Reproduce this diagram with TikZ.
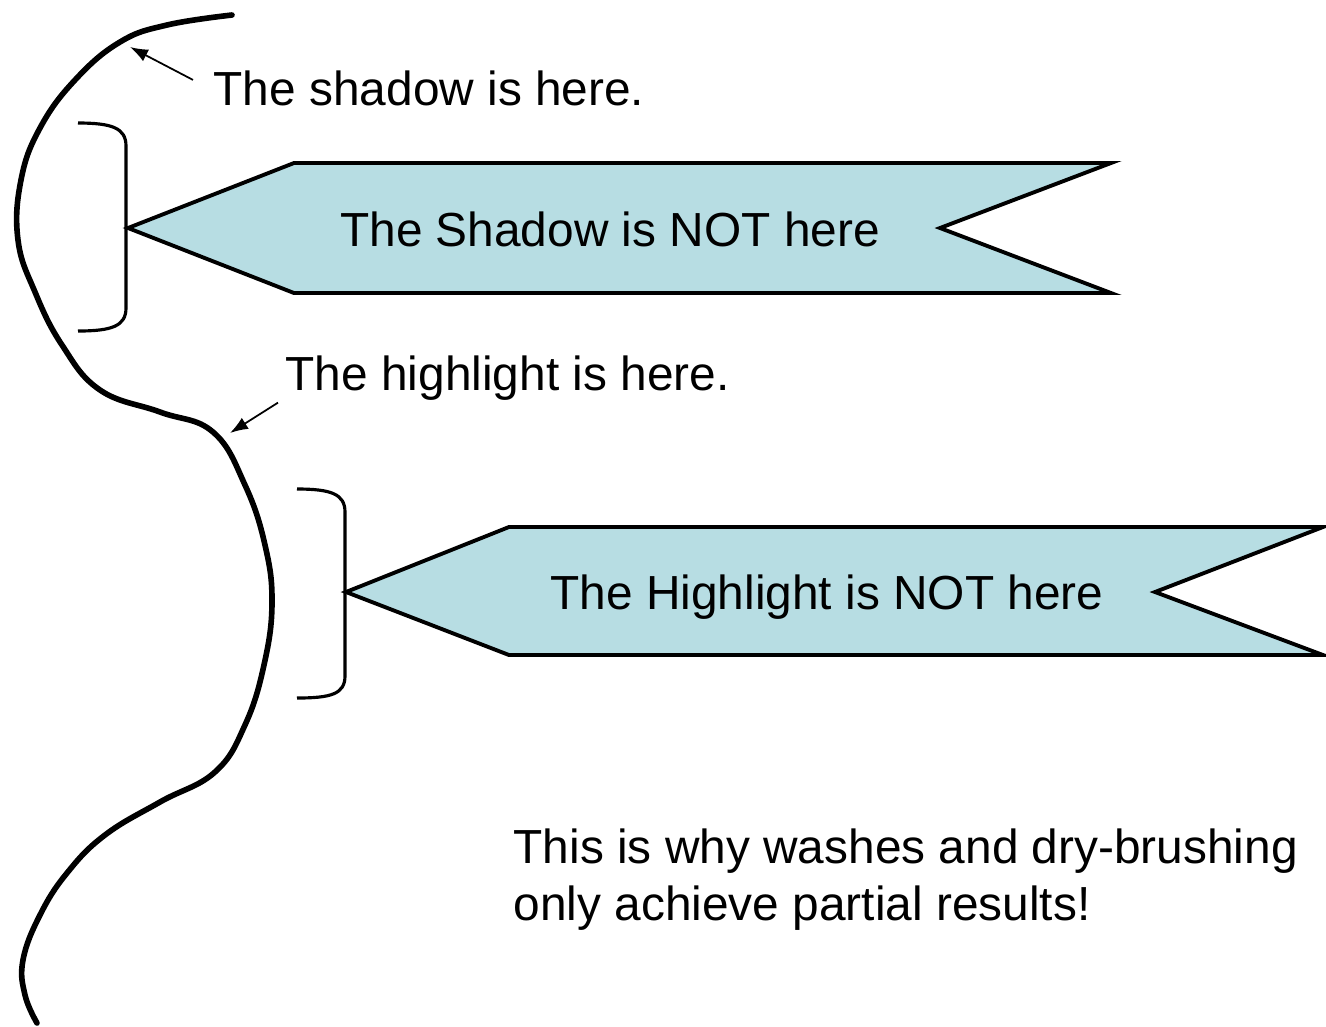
\documentclass[tikz,border=0pt]{standalone}
\usepackage{fontspec}
\setmainfont{Liberation Sans}
\usetikzlibrary{positioning, arrows.meta}
\definecolor{bannerblue}{RGB}{183,221,227}

\begin{document}
\begin{tikzpicture}[x=0.01cm, y=-0.01cm, >={Latex[length=1.8mm,width=1.3mm]},
    lbl/.style={inner sep=0pt, font=\fontsize{13.6}{16.2}\selectfont},
    banner/.style={draw, fill=bannerblue, line width=1.1pt, line join=miter},
    bracket/.style={draw, line width=0.9pt},
    outline/.style={draw, line width=1.6pt, line cap=round},
    pointer/.style={->, line width=0.5pt}]
    \useasboundingbox (0,0) rectangle (1326,1026);

    % Outline of the figure
    \path[outline] plot[smooth, tension=0.7] coordinates {(232,15) (167,25) (120,42) (75,80) (40,128) (21,180) (18,240) (35,292) (62,345) (100,390) (160,412) (213,432) (245,485) (265,545) (272,603) (264,665) (245,725) (215,772) (160,802) (105,835) (67,873) (40,915) (23,960) (25,995) (37,1023)};
    \coordinate (shadowpt) at (130,47);
    \coordinate (highpt) at (230,433);

    % Brackets
    \path[bracket] (78,123) .. controls (112,123) and (126,128) .. (126,146) -- (126,308) .. controls (126,326) and (112,331) .. (78,331);
    \path[bracket] (297,489) .. controls (331,489) and (345,494) .. (345,512) -- (345,676) .. controls (345,694) and (331,698) .. (297,698);

    % Banners
    \path[banner] (128,228) -- (294,163) -- (1111,163) -- (940,228) -- (1111,293) -- (294,293) -- cycle;
    \path[banner] (346,592) -- (509,527) -- (1323,527) -- (1155,592) -- (1323,655) -- (509,655) -- cycle;
    \node[lbl, anchor=base] (shadownot) at (610,246) {The Shadow is NOT here};
    \node[lbl, anchor=base] (highnot) at (827,609) {The Highlight is NOT here};

    % Labels and pointers
    \node[lbl, anchor=base west] (shadowlbl) at (213,105) {The shadow is here.};
    \node[lbl, anchor=base west] (highlbl) at (285,390) {The highlight is here.};
    \draw[pointer] ([shift={(-20,-8)}]shadowlbl.west) -- (shadowpt);
    \draw[pointer] ([shift={(-7,2)}]highlbl.south west) -- (highpt);

    \node[lbl, anchor=base west, align=left] (why) at (513,920) {This is why washes and dry-brushing\\only achieve partial results!};
\end{tikzpicture}
\end{document}
